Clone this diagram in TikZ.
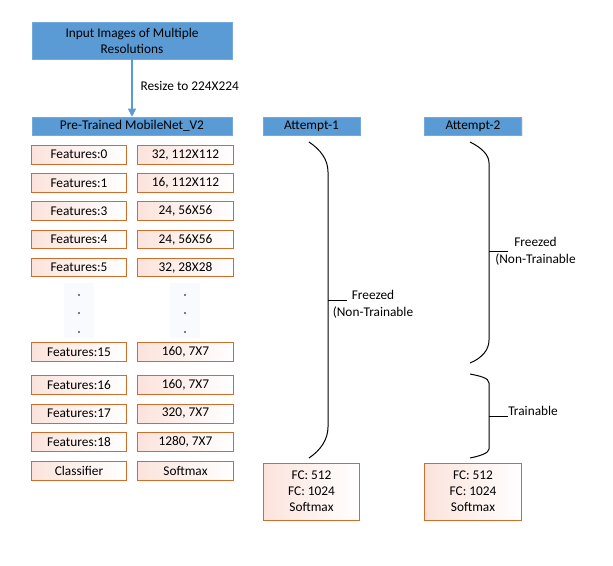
\documentclass[tikz,border=0pt]{standalone}
\usepackage{fontspec}
\setmainfont{Carlito}
\usetikzlibrary{arrows.meta,shadows}
\definecolor{hdrblue}{HTML}{5B9BD5}
\definecolor{lyrorange}{HTML}{CF6D2C}
\definecolor{lyrpink}{HTML}{FBE3DC}
\definecolor{gapbg}{HTML}{F8FAFD}
\begin{document}
\begin{tikzpicture}[x=0.75pt,y=-0.75pt]
	\tikzset{hdr/.style={draw=hdrblue!85!white,fill=hdrblue,inner sep=1pt,font=\fontsize{10}{12}\selectfont,
			drop shadow={opacity=0.2,shadow xshift=0.8pt,shadow yshift=-0.8pt}},
		lyr/.style={draw=lyrorange,line width=0.7pt,left color=lyrpink,right color=white,minimum width=71.5pt,minimum height=14.2pt,
			inner sep=1pt,font=\fontsize{10}{12}\selectfont},
		fcbox/.style={lyr,minimum width=72.5pt,minimum height=42.5pt,align=center},
		brace/.style={line width=0.75pt},
		note/.style={font=\fontsize{10}{12.5}\selectfont,inner sep=0pt}}
	\useasboundingbox (0,0) rectangle (613,566);
	\node[hdr,minimum width=150pt,minimum height=28pt,align=center] (input) at (132,40.5) {Input Images of Multiple\\Resolutions};
	\node[hdr,minimum width=150pt,minimum height=13.5pt] (mnet) at (132,126) {Pre-Trained MobileNet\_V2};
	\node[hdr,minimum width=72.5pt,minimum height=13.5pt] (att1) at (311.5,126) {Attempt-1};
	\node[hdr,minimum width=73pt,minimum height=13.5pt] (att2) at (473,126) {Attempt-2};
	\draw[hdrblue,line width=0.8pt,-{Triangle[length=6pt,width=6pt]}] (input) -- (mnet)
		node[pos=0.47,right=6pt,note,black] {Resize to 224X224};
	\foreach \y/\a/\b [count=\i] in {154.7/Features:0/{32, 112X112}, 182.8/Features:1/{16, 112X112},
			211.2/Features:3/{24, 56X56}, 239.5/Features:4/{24, 56X56}, 267.5/Features:5/{32, 28X28},
			352/Features:15/{160, 7X7}, 385/Features:16/{160, 7X7}, 413.5/Features:17/{320, 7X7},
			442.2/Features:18/{1280, 7X7}, 470.5/Classifier/Softmax}{
		\node[lyr] (fl\i) at (79,\y) {\a};
		\node[lyr,minimum width=72.5pt] (fr\i) at (185.5,\y) {\b};
	}
	% the rows left out
	\foreach \x/\n in {79/gapl, 185/gapr}{
		\node[fill=gapbg,minimum width=23pt,minimum height=41pt,inner sep=0pt] (\n) at (\x,310.5) {};
		\foreach \y in {295,313,332}
			\fill (\x,\y) circle (0.6pt);
	}
	\node[fcbox] (fc1) at (311.5,491.7) {FC: 512\\FC: 1024\\Softmax};
	\node[fcbox] (fc2) at (473,491.7) {FC: 512\\FC: 1024\\Softmax};
	% attempt 1
	\draw[brace] (309,142) .. controls (321,150) and (328,160) .. (328,172) -- (328,427)
		.. controls (328,439) and (321,450) .. (309,458);
	\draw[brace] (328,300) -- (347,300);
	\node[note,align=center] (frz1) at (373,304) {Freezed\\(Non-Trainable};
	% attempt 2
	\draw[brace] (470,142) .. controls (482,148) and (489,155) .. (489,163) -- (489,340)
		.. controls (489,350) and (482,358) .. (470,363);
	\draw[brace] (489,252) -- (508,252);
	\node[note,align=center] (frz2) at (535.5,251.5) {Freezed\\(Non-Trainable};
	\draw[brace] (470,374) .. controls (480,376) and (489,378) .. (489,383) -- (489,449)
		.. controls (489,453) and (480,456) .. (470,458);
	\draw[brace] (489,416.7) -- (508,416.7);
	\node[note,anchor=base west] (trn) at (508,415.5) {Trainable};
\end{tikzpicture}
\end{document}
